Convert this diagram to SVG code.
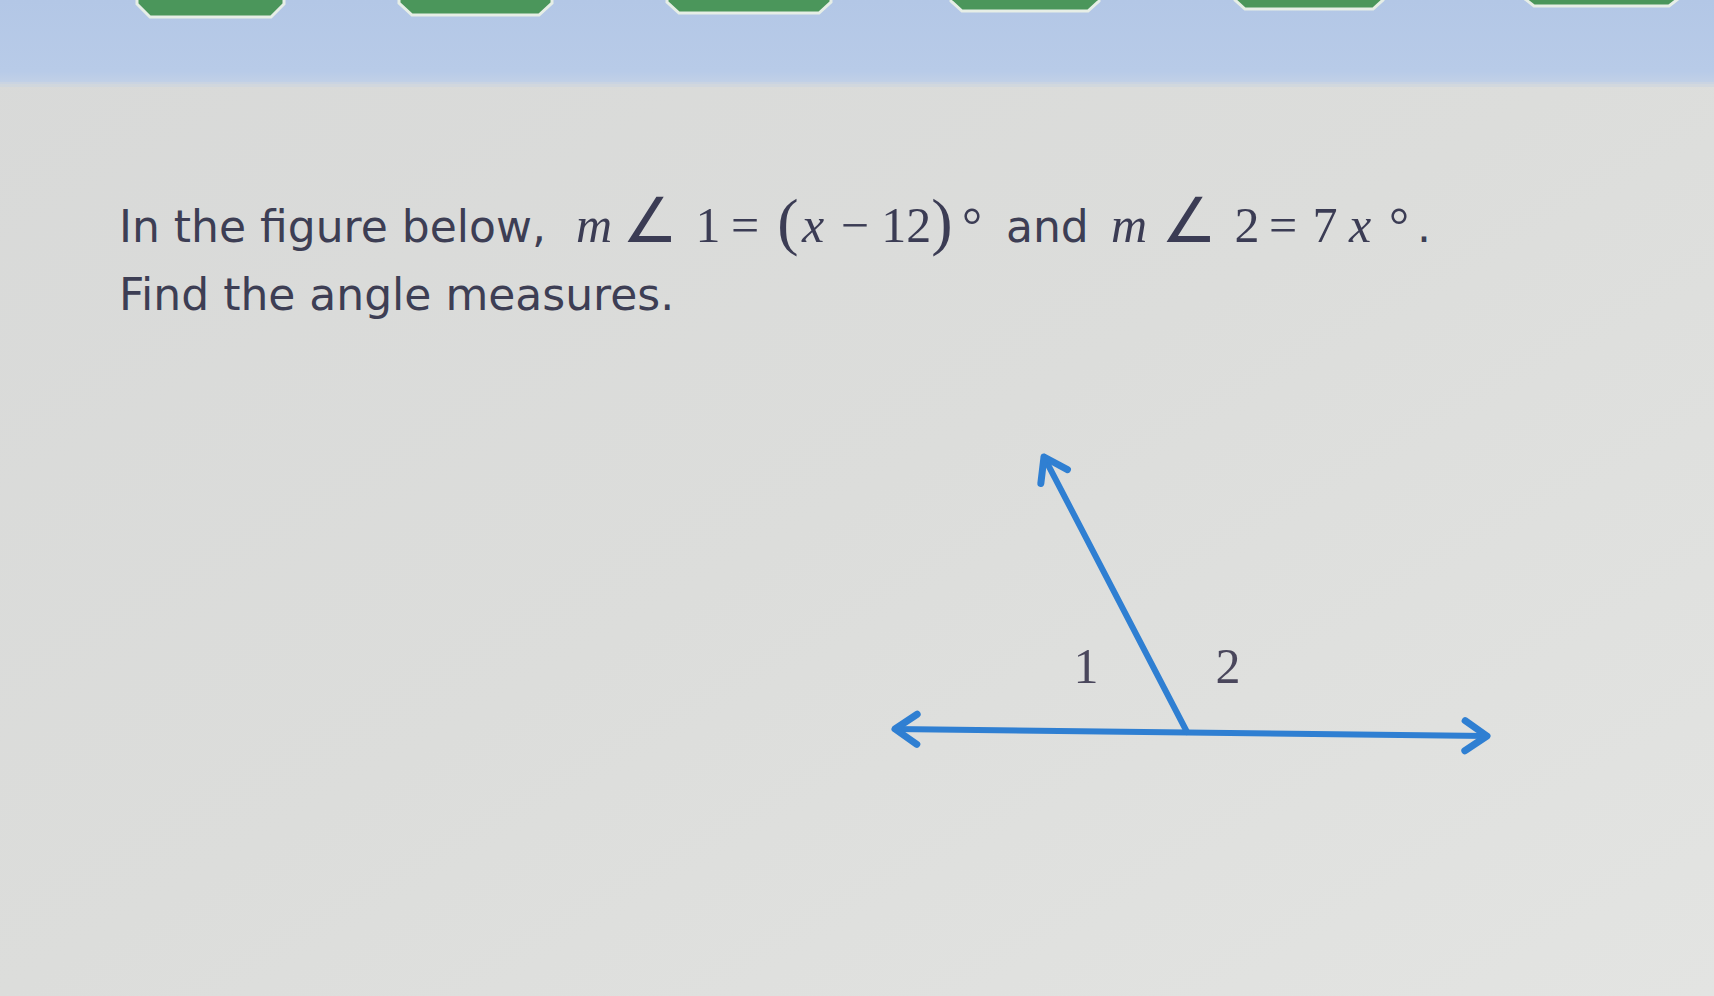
<svg xmlns="http://www.w3.org/2000/svg" width="1714" height="996" viewBox="0 0 1714 996">
<defs>
<linearGradient id="band" x1="0" y1="0" x2="0" y2="1">
<stop offset="0" stop-color="#b3c7e6"/>
<stop offset="0.85" stop-color="#b8cbe8"/>
<stop offset="1" stop-color="#c3d1e6"/>
</linearGradient>
<linearGradient id="page" x1="0" y1="0" x2="1" y2="1">
<stop offset="0" stop-color="#d8d9d8"/>
<stop offset="0.5" stop-color="#dcdddb"/>
<stop offset="1" stop-color="#e3e4e2"/>
</linearGradient>
<marker id="arrow" markerUnits="userSpaceOnUse" markerWidth="40" markerHeight="40" viewBox="-30 -20 40 40" refX="0" refY="0" orient="auto-start-reverse" overflow="visible">
<path d="M-22,-15 L0,0 L-22,15" fill="none" stroke="#2f7fd2" stroke-width="7" stroke-linejoin="round" stroke-linecap="round"/>
</marker>
<style>
.sans{font-family:"DejaVu Sans","Verdana",sans-serif;font-size:44px;fill:#3d3e54}
.math{font-family:"Liberation Serif","Times New Roman",serif;font-size:50px;fill:#3b3c54;text-anchor:middle}
.it{font-style:italic}
.ang{font-family:"DejaVu Sans",sans-serif;font-size:62px;fill:#3b3c54;text-anchor:middle}
.lbl{font-family:"Liberation Serif","Times New Roman",serif;font-size:50px;fill:#4a475c;text-anchor:middle}
.ray{fill:none;stroke:#2f7fd2;stroke-width:6;stroke-linecap:round}
.tab{fill:#4b965b;stroke:#e6eee6;stroke-width:3}
</style>
</defs>

<g id="background">
<rect x="0" y="0" width="1714" height="996" fill="url(#page)"/>
<rect x="0" y="0" width="1714" height="84" fill="url(#band)"/>
<rect x="0" y="82" width="1714" height="5" fill="#cdd5df" opacity="0.7"/>
</g>

<g id="tabs">
<path class="tab" d="M137,-4 L284,-4 L284,4 L271,17 L150,17 L137,4 Z"/>
<path class="tab" d="M399,-4 L552,-4 L552,3 L539,15 L412,15 L399,3 Z"/>
<path class="tab" d="M667,-4 L831,-4 L831,2 L819,13 L679,13 L667,2 Z"/>
<path class="tab" d="M951,-4 L1099,-4 L1099,1 L1088,11 L962,11 L951,1 Z"/>
<path class="tab" d="M1235,-4 L1383,-4 L1383,0 L1373,9 L1245,9 L1235,0 Z"/>
<path class="tab" d="M1525,-4 L1678,-4 L1678,-1 L1669,6 L1534,6 L1525,-1 Z"/>
</g>

<g id="question">
<text class="sans" x="119" y="242">In the figure below,</text>
<text class="math it" x="594" y="242">m</text>
<text class="ang" x="650" y="242">∠</text>
<text class="math" x="708" y="242">1</text>
<text class="math" x="745" y="242">=</text>
<text class="math" x="788" y="243" style="font-size:64px">(</text>
<text class="math it" x="813" y="242">x</text>
<text class="math" x="886" y="242">− 12</text>
<text class="math" x="942" y="243" style="font-size:64px">)</text>
<text class="math" x="972" y="242">°</text>
<text class="sans" x="1006" y="242">and</text>
<text class="math it" x="1129" y="242">m</text>
<text class="ang" x="1189" y="242">∠</text>
<text class="math" x="1247" y="242">2</text>
<text class="math" x="1283" y="242">=</text>
<text class="math" x="1325" y="242">7</text>
<text class="math it" x="1360" y="242">x</text>
<text class="math" x="1399" y="242">°</text>
<text class="sans" x="1417" y="242">.</text>
<text class="sans" x="119" y="310">Find the angle measures.</text>
</g>

<g id="label-1">
<text class="lbl" x="1086" y="683">1</text>
</g>
<g id="label-2">
<text class="lbl" x="1228" y="683">2</text>
</g>

<g id="connectors">
<line id="line" class="ray" x1="895" y1="729" x2="1487" y2="736" marker-start="url(#arrow)" marker-end="url(#arrow)"/>
<line id="ray" class="ray" x1="1187" y1="732" x2="1044" y2="457" marker-end="url(#arrow)"/>
</g>
</svg>
